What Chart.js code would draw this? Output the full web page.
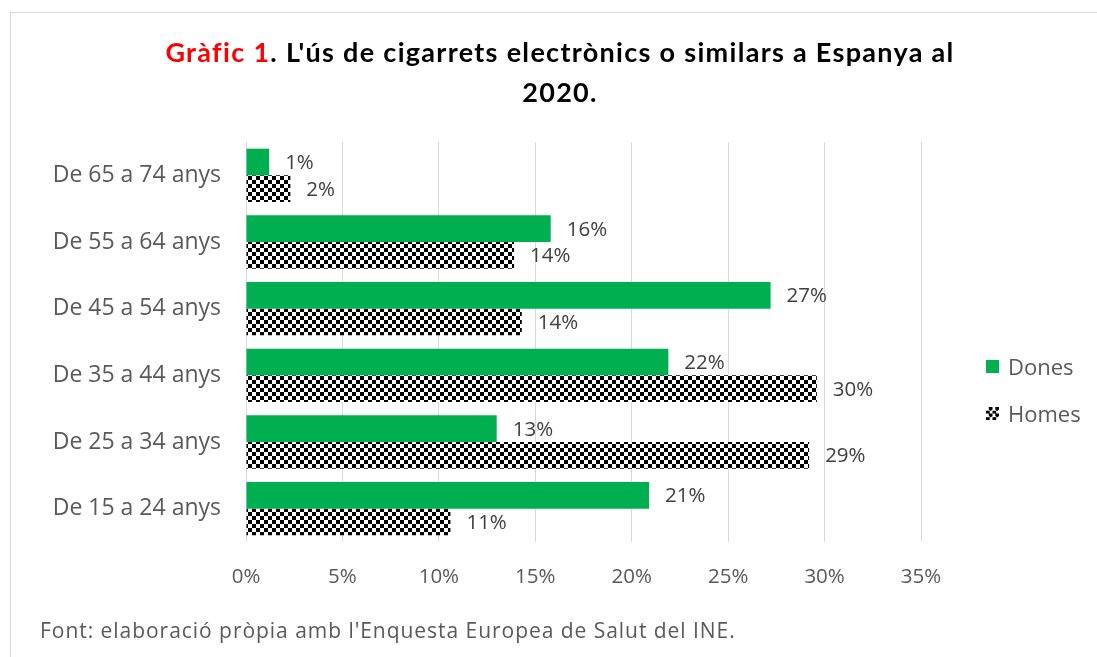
<!DOCTYPE html>
<html>
<head>
<meta charset="utf-8">
<script src="https://cdn.jsdelivr.net/npm/chart.js@4.4.1/dist/chart.umd.min.js"></script>
<style>
  html, body { margin: 0; padding: 0; background: #fff; overflow: hidden; }
  #wrap { position: relative; width: 1097px; height: 657px; }
  #marc { position: absolute; left: 10px; top: 12px; width: 1100px; height: 700px; border: 1px solid #d9d9d9; box-sizing: border-box; }
  #grafic { position: absolute; left: 0; top: 0; }
  #titol { position: absolute; left: 0; top: 32px; width: 1120px; text-align: center; font: bold 27px Lato, sans-serif; letter-spacing: 1.3px; line-height: 40px; color: #000; }
  #titol .num { color: #ff0000; }
  #font { position: absolute; left: 40px; top: 616px; font: 21px 'Open Sans', sans-serif; letter-spacing: 0.96px; line-height: 28px; color: #595959; white-space: nowrap; }
  #llegenda { position: absolute; left: 986px; top: 354px; font: 22px 'Open Sans', sans-serif; line-height: 24px; color: #595959; }
  #llegenda div { height: 47px; display: flex; align-items: flex-start; }
  #llegenda i { display: inline-block; width: 13px; height: 13px; margin: 6px 9px 0 0; }
</style>
</head>
<body>
<div id="wrap">
  <div id="marc"></div>
  <canvas id="grafic" width="1097" height="657"></canvas>
  <div id="titol"><span class="num">Gràfic 1</span>. L'ús de cigarrets electrònics o similars a Espanya al<br>2020.</div>
  <div id="llegenda"></div>
  <div id="font">Font: elaboració pròpia amb l'Enquesta Europea de Salut del INE.</div>
</div>
<script>
// grups d'edat, de dalt a baix
const edats = ['De 65 a 74 anys', 'De 55 a 64 anys', 'De 45 a 54 anys', 'De 35 a 44 anys', 'De 25 a 34 anys', 'De 15 a 24 anys'];
// percentatge que fa servir cigarrets electrònics
const dones = [1.2, 15.8, 27.2, 21.9, 13.0, 20.9];
const homes = [2.3, 13.9, 14.3, 29.6, 29.2, 10.6];
const marques = [0, 5, 10, 15, 20, 25, 30, 35];

const verd = '#00b050';
const lletra = 'Open Sans';

// trama d'escacs per als homes
function escacs(mida) {
    const c = document.createElement('canvas');
    c.width = mida * 2;
    c.height = mida * 2;
    const g = c.getContext('2d');
    g.fillStyle = '#fff';
    g.fillRect(0, 0, mida * 2, mida * 2);
    g.fillStyle = '#000';
    g.fillRect(0, 0, mida, mida);
    g.fillRect(mida, mida, mida, mida);
    return g.createPattern(c, 'repeat');
}

// valors al costat de cada barra
const etiquetes = {
    id: 'etiquetes',
    afterDatasetsDraw(chart) {
        const ctx = chart.ctx;
        ctx.save();
        ctx.font = '20.5px "' + lletra + '", sans-serif';
        ctx.fillStyle = '#404040';
        ctx.textBaseline = 'middle';
        chart.data.datasets.forEach((ds, i) => {
            chart.getDatasetMeta(i).data.forEach((barra, j) => {
                ctx.fillText(Math.round(ds.data[j]) + '%', barra.x + 16, barra.y + 1);
            });
        });
        ctx.restore();
    }
};

const grafic = new Chart(document.getElementById('grafic'), {
    type: 'bar',
    data: {
        labels: edats,
        datasets: [{
            label: 'Dones',
            data: dones,
            backgroundColor: verd,
            mostra: verd
        }, {
            label: 'Homes',
            data: homes,
            backgroundColor: escacs(4),
            mostra: 'repeating-conic-gradient(#000 0 25%, #fff 0 50%) 0 0 / 6.5px 6.5px'
        }]
    },
    options: {
        indexAxis: 'y',
        responsive: false,
        animation: false,
        datasets: {
            bar: { categoryPercentage: 0.8, barPercentage: 1.0, borderWidth: 0 }
        },
        layout: { padding: { top: 142, right: 176, bottom: 55, left: 0 } },
        plugins: {
            legend: { display: false },
            tooltip: { enabled: false }
        },
        scales: {
            x: {
                min: 0,
                max: 35,
                afterBuildTicks: scale => { scale.ticks = marques.map(v => ({ value: v })); },
                afterFit: scale => { scale.height = 60; },
                grid: { color: '#d9d9d9', drawTicks: false },
                border: { display: false },
                ticks: {
                    padding: 23,
                    color: '#595959',
                    font: { family: lletra, size: 20.5 },
                    callback: v => v + '%'
                }
            },
            y: {
                afterFit: scale => { scale.width = 246; },
                grid: { display: false, drawTicks: false },
                border: { display: false },
                ticks: {
                    padding: 25,
                    color: '#595959',
                    font: { family: lletra, size: 23 }
                }
            }
        }
    },
    plugins: [etiquetes]
});

// llegenda a la dreta
const llegenda = document.getElementById('llegenda');
grafic.data.datasets.forEach(ds => {
    const fila = document.createElement('div');
    const caixa = document.createElement('i');
    caixa.style.background = ds.mostra;
    fila.appendChild(caixa);
    fila.appendChild(document.createTextNode(ds.label));
    llegenda.appendChild(fila);
});
</script>
</body>
</html>
